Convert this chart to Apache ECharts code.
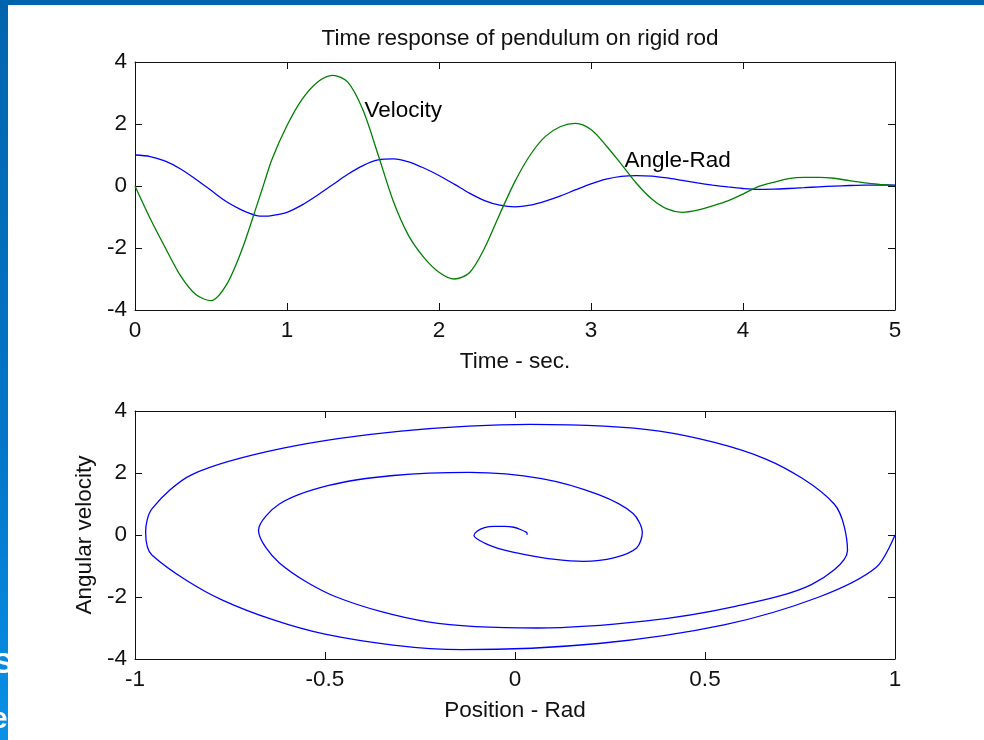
<!DOCTYPE html>
<html>
<head>
<meta charset="utf-8">
<script src="https://cdn.jsdelivr.net/npm/echarts@6/dist/echarts.min.js"></script>
<style>
  html, body { margin: 0; padding: 0; background: #fff; }
  #chart { width: 984px; height: 740px; }
</style>
</head>
<body>
<div id="chart"></div>
<script>
// time samples (s)
const times = [0, 0.1, 0.2, 0.3, 0.4, 0.5, 0.6, 0.7, 0.8, 0.85, 0.9, 1.0,
  1.1, 1.2, 1.3, 1.4, 1.5, 1.6, 1.7, 1.8, 1.9, 2.0,
  2.1, 2.2, 2.3, 2.4, 2.5, 2.6, 2.7, 2.8, 2.9, 3.0,
  3.1, 3.2, 3.3, 3.4, 3.5, 3.6, 3.7, 3.8, 3.9, 4.0,
  4.1, 4.2, 4.3, 4.4, 4.5, 4.6, 4.7, 4.8, 4.9, 5.0];
// angle in rad
const angle = [1.0, 0.95, 0.8, 0.55, 0.22, -0.14, -0.5, -0.77, -0.955, -0.972, -0.955, -0.85,
  -0.61, -0.3, 0.04, 0.38, 0.66, 0.84, 0.875, 0.78, 0.58, 0.34,
  0.06, -0.23, -0.47, -0.62, -0.675, -0.62, -0.49, -0.32, -0.12, 0.07,
  0.22, 0.31, 0.335, 0.32, 0.26, 0.18, 0.1, 0.03, -0.03, -0.08,
  -0.108, -0.1, -0.08, -0.055, -0.027, -0.003, 0.016, 0.028, 0.032, 0.031];
// angular velocity
const velocity = [0, -1.05, -2.0, -2.9, -3.5, -3.7, -3.2, -2.1, -0.65, 0.1, 0.85, 1.95,
  2.8, 3.35, 3.57, 3.35, 2.45, 1.0, -0.5, -1.6, -2.3, -2.78,
  -3.0, -2.8, -2.0, -0.9, 0.15, 1.0, 1.6, 1.92, 2.02, 1.82,
  1.3, 0.7, 0.08, -0.42, -0.74, -0.85, -0.78, -0.64, -0.48, -0.26,
  -0.02, 0.12, 0.24, 0.28, 0.28, 0.25, 0.17, 0.1, 0.05, 0.01];
const labelPts = [[1.51, 2.42, 'Velocity'], [3.22, 0.8, 'Angle-Rad']];

const font = 'Liberation Sans, Arial, sans-serif';
const ink = '#111';
const fs = 22.5;

const angleSeries = times.map((t, i) => [t, angle[i]]);
const velSeries = times.map((t, i) => [t, velocity[i]]);
const phase = times.map((t, i) => [angle[i], velocity[i]]);

function xAx(grid, min, max, interval, pos, name) {
  return {
    type: 'value', gridIndex: grid, min: min, max: max, interval: interval, position: pos,
    name: name || '', nameLocation: 'middle', nameGap: 40,
    nameTextStyle: { fontFamily: font, fontSize: fs, color: ink },
    axisLine: { show: true, onZero: false, lineStyle: { color: ink, width: 1 } },
    axisTick: { show: true, inside: true, length: 7, lineStyle: { color: ink } },
    axisLabel: { show: pos === 'bottom', margin: 9, fontFamily: font, fontSize: fs, color: ink },
    splitLine: { show: false }
  };
}
function yAx(grid, pos, name) {
  return {
    type: 'value', gridIndex: grid, min: -4, max: 4, interval: 2, position: pos,
    name: name || '', nameLocation: 'middle', nameGap: 37, nameRotate: 90,
    nameTextStyle: { fontFamily: font, fontSize: fs, color: ink },
    axisLine: { show: true, onZero: false, lineStyle: { color: ink, width: 1 } },
    axisTick: { show: true, inside: true, length: 7, lineStyle: { color: ink } },
    axisLabel: { show: pos === 'left', margin: 8, fontFamily: font, fontSize: fs, color: ink },
    splitLine: { show: false }
  };
}

const myChart = echarts.init(document.getElementById('chart'));
const option = {
  animation: false,
  backgroundColor: '#fff',
  title: {
    text: 'Time response of pendulum on rigid rod',
    left: 515, top: 22, textAlign: 'center',
    textStyle: { fontFamily: font, fontSize: fs, fontWeight: 'normal', color: ink }
  },
  graphic: [
    { type: 'rect', z: -3, shape: { x: 0, y: 0, width: 984, height: 740 },
      style: { fill: new echarts.graphic.LinearGradient(0, 0, 0, 1, [
        { offset: 0, color: '#0165ad' }, { offset: 0.6, color: '#0176c8' }, { offset: 1, color: '#0990e6' }]) } },
    { type: 'text', z: -2, left: -7, top: 650, style: { text: 'S', fill: '#fff', font: 'bold 30px ' + font } },
    { type: 'text', z: -2, left: -9, top: 705, style: { text: 'e', fill: '#fff', font: 'bold 30px ' + font } },
    { type: 'rect', z: -1, shape: { x: 8, y: 5, width: 976, height: 735 }, style: { fill: '#fff' } }
  ],
  grid: [
    { left: 135, top: 62, width: 760, height: 248, outerBoundsMode: 'none' },
    { left: 135, top: 411, width: 760, height: 248, outerBoundsMode: 'none' }
  ],
  xAxis: [
    xAx(0, 0, 5, 1, 'bottom', 'Time - sec.'),
    xAx(0, 0, 5, 1, 'top'),
    xAx(1, -1, 1, 0.5, 'bottom', 'Position - Rad'),
    xAx(1, -1, 1, 0.5, 'top')
  ],
  yAxis: [
    yAx(0, 'left'),
    yAx(0, 'right'),
    yAx(1, 'left', 'Angular velocity'),
    yAx(1, 'right')
  ],
  series: [
    {
      name: 'Angle-Rad', type: 'line', xAxisIndex: 0, yAxisIndex: 0,
      data: angleSeries, showSymbol: false, smooth: 0.3,
      lineStyle: { color: '#0000ff', width: 1.3 }
    },
    {
      name: 'Velocity', type: 'line', xAxisIndex: 0, yAxisIndex: 0,
      data: velSeries, showSymbol: false, smooth: 0.3,
      lineStyle: { color: '#008000', width: 1.3 }
    },
    {
      name: 'Phase', type: 'line', xAxisIndex: 2, yAxisIndex: 2,
      data: phase, showSymbol: false, smooth: 0.3,
      lineStyle: { color: '#0000ff', width: 1.3 }
    },
    {
      type: 'scatter', xAxisIndex: 0, yAxisIndex: 0, symbolSize: 0, silent: true,
      data: labelPts.map((p) => ({ value: [p[0], p[1]], name: p[2] })),
      label: {
        show: true, position: 'right', distance: 0, formatter: '{b}', opacity: 1,
        fontFamily: font, fontSize: fs, color: '#000'
      }
    }
  ]
};
myChart.setOption(option);
</script>
</body>
</html>
